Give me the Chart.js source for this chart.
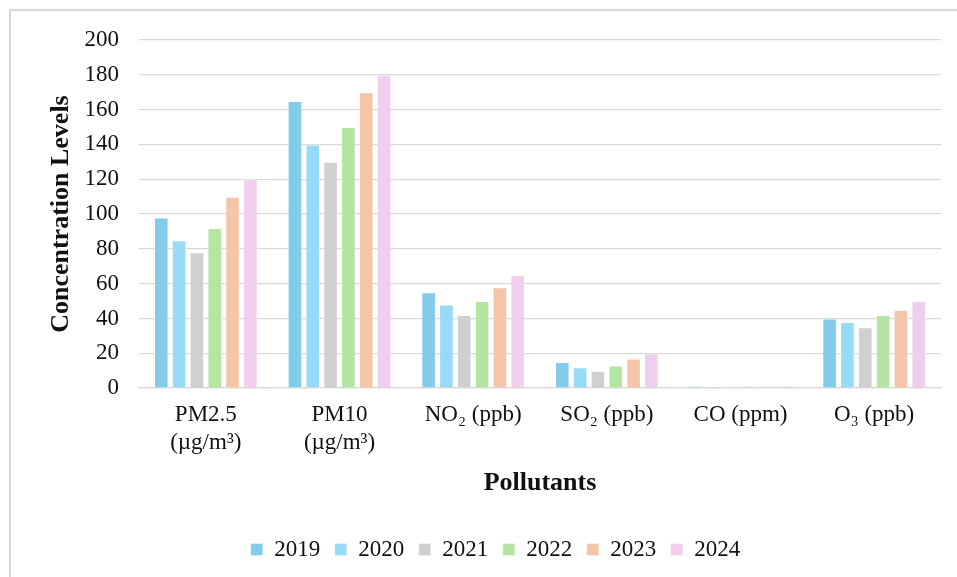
<!DOCTYPE html>
<html>
<head>
<meta charset="utf-8">
<script src="https://cdn.jsdelivr.net/npm/chart.js@4/dist/chart.umd.min.js"></script>
<style>
  html, body { margin: 0; padding: 0; background: #fff; }
  #wrap { position: relative; width: 957px; height: 577px; overflow: hidden; }
  #frame { position: absolute; left: 9px; top: 9px; width: 990px; height: 600px; border: 2px solid #d9d9d9; box-sizing: border-box; }
  #c { position: absolute; left: 0; top: 0; }
</style>
</head>
<body>
<div id="wrap">
  <div id="frame"></div>
  <canvas id="c" width="957" height="577"></canvas>
</div>
<script>
// Pollutant categories on the x axis
const pollutants = [
  ['PM2.5', '(\u00b5g/m\u00b3)'],
  ['PM10', '(\u00b5g/m\u00b3)'],
  'NO\u2082 (ppb)',
  'SO\u2082 (ppb)',
  'CO (ppm)',
  'O\u2083 (ppb)'
];

// One series per year
const years = ['2019', '2020', '2021', '2022', '2023', '2024'];
const v2019 = [98, 165, 55, 15, 1.2, 40];
const v2020 = [85, 140, 48, 12, 1.0, 38];
const v2021 = [78, 130, 42, 10, 0.9, 35];
const v2022 = [92, 150, 50, 13, 1.1, 42];
const v2023 = [110, 170, 58, 17, 1.3, 45];
const v2024 = [120, 180, 65, 20, 1.5, 50];

const yTicks = [0, 20, 40, 60, 80, 100, 120, 140, 160, 180, 200];

const seriesValues = [v2019, v2020, v2021, v2022, v2023, v2024];
const fills = ['#82cbe9', '#97dbf7', '#d0d0d0', '#b5e5a2', '#f5c5aa', '#f0ceee'];

const serif = '"Liberation Serif", "Times New Roman", serif';

// Nudge the legend row to the right so it sits centred under the framed area
const legendShift = {
  id: 'legendShift',
  afterLayout(chart) {
    if (chart.legend) {
      chart.legend.left += 20;
      chart.legend.right += 20;
    }
  }
};

new Chart(document.getElementById('c'), {
  type: 'bar',
  data: {
    labels: pollutants,
    datasets: years.map((y, i) => ({
      label: y,
      data: seriesValues[i],
      backgroundColor: fills[i],
      borderColor: 'rgba(255,255,255,0.35)',
      borderWidth: 1,
      barPercentage: 0.82,
      categoryPercentage: 0.8
    }))
  },
  plugins: [legendShift],
  options: {
    responsive: false,
    animation: false,
    devicePixelRatio: 1,
    layout: { padding: { left: 10, right: 16, top: 40, bottom: 6 } },
    plugins: {
      tooltip: { enabled: false },
      legend: {
        position: 'bottom',
        labels: {
          boxWidth: 12,
          boxHeight: 12,
          padding: 14.5,
          color: '#111',
          font: { family: serif, size: 23 }
        }
      }
    },
    scales: {
      x: {
        grid: { display: false, drawTicks: false },
        border: { display: true, color: '#d9d9d9', width: 1.3 },
        afterFit: (s) => { s.height -= 10; },
        ticks: {
          color: '#111',
          padding: 13,
          maxRotation: 0,
          font: { family: serif, size: 23, lineHeight: 1.2 }
        },
        title: {
          display: true,
          text: 'Pollutants',
          color: '#111',
          font: { family: serif, size: 26, weight: 'bold' },
          padding: { top: 8.2, bottom: 24.8 }
        }
      },
      y: {
        min: 0,
        max: 200,
        afterFit: (s) => { s.width = 129; },
        afterBuildTicks: (s) => { s.ticks = yTicks.map(v => ({ value: v })); },
        grid: { color: '#d9d9d9', lineWidth: 1.3, drawTicks: false },
        border: { display: false },
        ticks: {
          color: '#111',
          padding: 20,
          font: { family: serif, size: 23 }
        },
        title: {
          display: true,
          text: 'Concentration Levels',
          color: '#111',
          font: { family: serif, size: 26, weight: 'bold' },
          padding: { top: 36, bottom: 0 }
        }
      }
    }
  }
});
</script>
</body>
</html>
